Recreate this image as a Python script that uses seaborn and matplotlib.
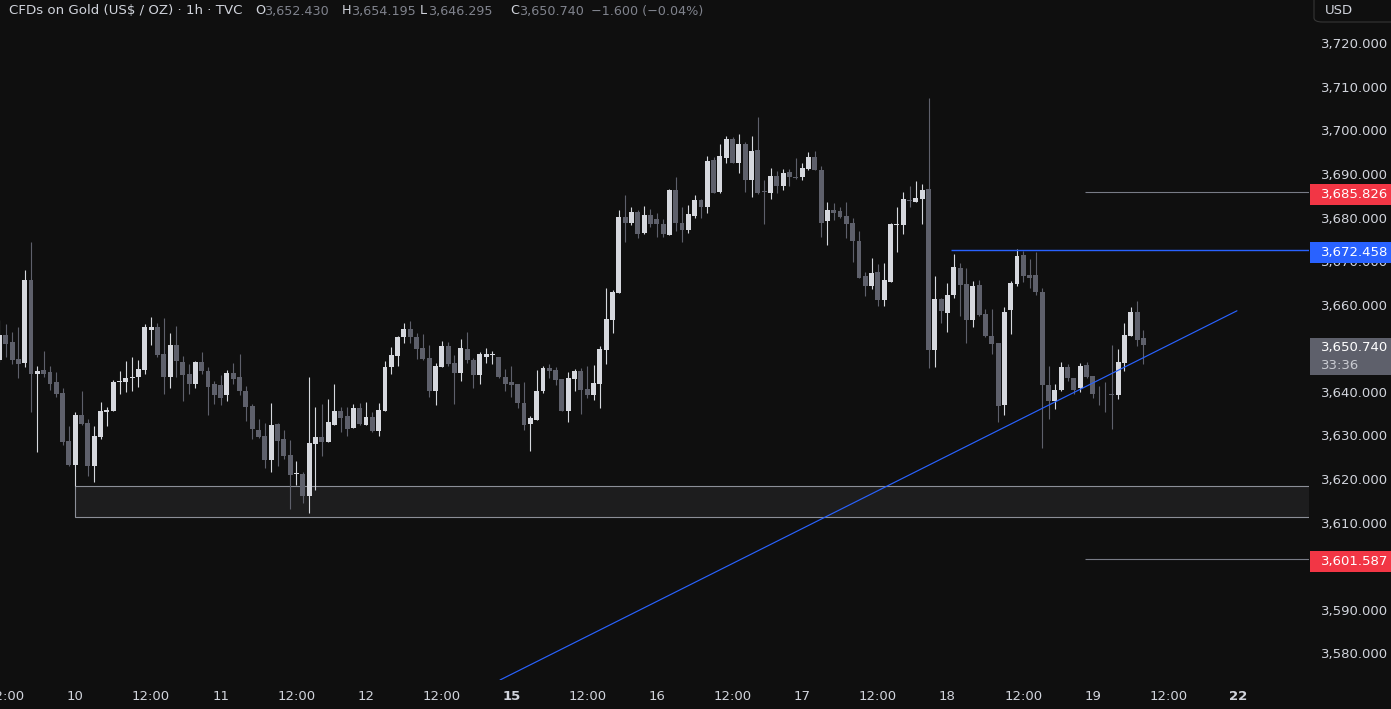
import numpy as np
import matplotlib
matplotlib.use('Agg')
import matplotlib.pyplot as plt
import seaborn as sns
from matplotlib.patches import Rectangle, FancyBboxPatch

# hourly candles, first visible bar sits 12 bars before the "10" day label
first_bar = -12
opens = [3647.4, 3653.1, 3651.5, 3647.6, 3646.7, 3665.7, 3644.2, 3645.0, 3644.6, 3642.3, 3639.8, 3628.8,
         3623.3, 3634.7, 3632.9, 3623.1, 3629.6, 3635.4, 3635.6, 3642.2, 3642.2, 3643.1, 3643.3, 3645.0,
         3654.3, 3654.9, 3648.7, 3643.3, 3650.8, 3646.9, 3644.0, 3641.9, 3646.9, 3644.9, 3641.7, 3641.5,
         3639.2, 3644.4, 3643.3, 3640.3, 3636.8, 3631.3, 3629.9, 3624.3, 3632.7, 3629.2, 3625.6, 3621.1,
         3621.2, 3616.0, 3628.0, 3629.7, 3628.6, 3632.3, 3635.6, 3634.5, 3631.6, 3636.3, 3632.5, 3634.3,
         3631.1, 3635.7, 3645.6, 3648.3, 3652.5, 3654.4, 3652.6, 3650.1, 3647.8, 3640.1, 3645.7, 3650.6,
         3646.6, 3644.4, 3649.9, 3647.3, 3643.8, 3648.1, 3648.4, 3647.9, 3643.5, 3642.3, 3641.7, 3637.5,
         3632.7, 3633.6, 3640.3, 3645.5, 3645.0, 3643.0, 3635.7, 3643.0, 3644.8, 3640.7, 3639.2, 3641.9,
         3649.5, 3656.6, 3662.6, 3680.1, 3678.8, 3681.3, 3676.5, 3680.6, 3679.7, 3678.5, 3676.0, 3686.2,
         3678.8, 3677.2, 3680.4, 3684.1, 3682.3, 3693.2, 3685.9, 3693.7, 3698.0, 3692.4, 3696.9, 3688.7,
         3695.5, 3686.0, 3685.7, 3689.5, 3687.3, 3690.5, 3689.2, 3689.2, 3691.2, 3693.9, 3691.0, 3679.1,
         3681.7, 3681.5, 3680.4, 3678.8, 3674.6, 3666.6, 3664.4, 3667.5, 3661.0, 3665.2, 3678.2, 3678.2,
         3683.8, 3683.6, 3684.3, 3686.6, 3649.7, 3661.3, 3658.0, 3662.3, 3668.4, 3664.8, 3656.6, 3664.5,
         3657.9, 3652.9, 3651.1, 3636.9, 3658.7, 3664.8, 3671.4, 3666.8, 3666.8, 3662.9, 3641.6, 3637.8,
         3640.5, 3645.7, 3643.1, 3640.8, 3646.2, 3643.7, 3639.5, 3639.5, 3639.6, 3639.2, 3646.7, 3652.9,
         3658.4, 3652.43]
highs = [3656.4, 3655.6, 3653.8, 3654.9, 3668.0, 3674.4, 3646.0, 3649.4, 3646.0, 3644.6, 3640.8, 3632.2,
         3635.3, 3640.2, 3633.7, 3632.2, 3637.7, 3636.6, 3642.8, 3644.8, 3647.1, 3648.0, 3647.3, 3655.6,
         3657.2, 3655.8, 3657.0, 3653.5, 3655.1, 3648.3, 3646.4, 3647.1, 3649.2, 3645.7, 3642.4, 3643.9,
         3645.0, 3646.7, 3648.7, 3641.4, 3637.2, 3633.8, 3632.9, 3637.5, 3632.9, 3631.3, 3629.0, 3624.2,
         3621.7, 3643.4, 3636.6, 3637.3, 3638.4, 3641.8, 3636.6, 3636.6, 3637.3, 3637.5, 3637.7, 3635.4,
         3637.5, 3647.1, 3650.3, 3652.8, 3655.8, 3656.3, 3653.5, 3653.3, 3650.8, 3646.7, 3651.7, 3651.5,
         3648.5, 3652.2, 3653.8, 3647.8, 3649.2, 3650.1, 3649.4, 3648.1, 3645.3, 3646.0, 3641.7, 3642.3,
         3634.5, 3645.0, 3646.0, 3646.4, 3645.7, 3643.0, 3644.6, 3645.3, 3645.5, 3646.0, 3646.2, 3650.6,
         3663.9, 3663.4, 3681.7, 3685.2, 3682.4, 3681.7, 3682.7, 3682.0, 3681.0, 3679.7, 3686.6, 3689.3,
         3682.4, 3682.9, 3685.2, 3684.3, 3694.1, 3693.8, 3696.9, 3698.7, 3698.5, 3699.2, 3697.3, 3698.7,
         3703.1, 3688.6, 3691.4, 3690.7, 3691.1, 3691.1, 3693.7, 3692.5, 3695.0, 3695.3, 3691.8, 3683.6,
         3683.4, 3682.3, 3683.6, 3679.9, 3676.9, 3667.5, 3670.7, 3669.4, 3669.6, 3678.8, 3682.4, 3685.9,
         3687.2, 3688.4, 3687.7, 3707.4, 3666.6, 3661.6, 3665.0, 3671.7, 3669.6, 3668.4, 3665.5, 3665.7,
         3658.9, 3658.9, 3651.2, 3659.5, 3665.5, 3672.8, 3672.3, 3670.5, 3672.1, 3663.8, 3646.0, 3641.8,
         3646.9, 3646.4, 3643.1, 3646.7, 3646.9, 3643.7, 3641.4, 3642.3, 3650.8, 3649.9, 3655.8, 3659.5,
         3660.9, 3654.195]
lows = [3646.8, 3648.1, 3646.3, 3643.1, 3645.6, 3635.3, 3626.1, 3643.5, 3640.5, 3638.9, 3627.7, 3623.0,
        3618.3, 3632.4, 3620.6, 3619.4, 3629.3, 3632.2, 3635.6, 3639.4, 3639.9, 3640.3, 3641.2, 3644.1,
        3650.8, 3647.9, 3639.6, 3641.0, 3643.3, 3637.8, 3639.4, 3641.0, 3644.0, 3634.6, 3637.3, 3637.1,
        3637.8, 3641.9, 3639.2, 3633.4, 3629.3, 3629.5, 3622.6, 3621.7, 3622.9, 3624.7, 3613.2, 3618.7,
        3614.6, 3612.1, 3617.6, 3625.2, 3628.6, 3632.3, 3630.9, 3629.8, 3631.6, 3632.3, 3632.5, 3630.7,
        3629.8, 3635.7, 3644.2, 3646.0, 3651.1, 3651.3, 3647.6, 3647.3, 3638.9, 3636.9, 3645.6, 3646.0,
        3637.3, 3642.6, 3646.7, 3641.0, 3641.9, 3646.7, 3646.5, 3643.1, 3640.3, 3638.9, 3636.2, 3631.2,
        3626.5, 3633.6, 3639.7, 3643.1, 3641.5, 3635.7, 3633.0, 3640.3, 3635.0, 3638.5, 3638.2, 3636.2,
        3646.3, 3653.4, 3662.6, 3674.3, 3678.2, 3675.4, 3676.3, 3677.9, 3675.6, 3675.6, 3675.9, 3676.8,
        3674.3, 3676.5, 3679.8, 3679.8, 3681.1, 3685.7, 3685.7, 3692.6, 3692.4, 3690.1, 3685.9, 3684.8,
        3685.3, 3678.4, 3684.3, 3685.7, 3686.2, 3687.3, 3688.9, 3688.7, 3691.0, 3690.8, 3675.6, 3673.8,
        3679.5, 3680.0, 3675.4, 3669.9, 3666.2, 3661.9, 3663.5, 3659.8, 3659.6, 3665.2, 3672.2, 3676.3,
        3682.5, 3683.6, 3678.4, 3645.4, 3645.6, 3655.7, 3653.8, 3661.5, 3657.5, 3651.1, 3654.8, 3657.3,
        3652.7, 3648.8, 3633.0, 3634.7, 3653.2, 3664.2, 3665.1, 3663.9, 3662.3, 3627.1, 3633.7, 3636.0,
        3640.3, 3642.6, 3639.6, 3639.9, 3643.1, 3638.7, 3637.1, 3635.3, 3631.4, 3638.3, 3644.7, 3652.9,
        3650.6, 3646.295]
closes = [3653.1, 3651.0, 3647.2, 3646.5, 3665.7, 3644.2, 3644.8, 3644.1, 3641.9, 3639.6, 3628.6, 3623.3,
          3634.7, 3632.6, 3623.1, 3629.9, 3635.6, 3635.9, 3642.3, 3642.5, 3643.2, 3643.5, 3645.3, 3654.8,
          3654.9, 3648.5, 3643.3, 3650.8, 3647.0, 3643.8, 3641.9, 3646.9, 3644.7, 3641.2, 3639.2, 3638.7,
          3644.4, 3643.0, 3640.1, 3636.6, 3631.4, 3629.7, 3624.3, 3632.4, 3628.8, 3625.4, 3621.0, 3621.2,
          3616.0, 3628.3, 3629.7, 3628.6, 3633.1, 3635.6, 3634.1, 3631.4, 3636.3, 3632.7, 3634.3, 3631.1,
          3635.9, 3645.7, 3648.5, 3652.6, 3654.4, 3652.5, 3649.9, 3647.6, 3640.3, 3646.0, 3650.6, 3646.3,
          3644.4, 3650.1, 3647.4, 3643.8, 3648.7, 3648.7, 3648.5, 3643.3, 3641.9, 3641.5, 3637.5, 3632.5,
          3633.9, 3640.2, 3645.5, 3644.8, 3642.8, 3635.7, 3643.2, 3644.8, 3640.5, 3639.2, 3642.1, 3649.9,
          3656.7, 3662.9, 3680.1, 3678.8, 3681.3, 3676.3, 3680.6, 3678.4, 3678.4, 3676.3, 3686.2, 3678.8,
          3677.2, 3680.7, 3684.1, 3682.3, 3693.0, 3685.7, 3694.1, 3698.0, 3692.6, 3696.9, 3688.7, 3695.3,
          3685.7, 3685.9, 3689.5, 3687.3, 3690.2, 3689.2, 3689.1, 3691.4, 3693.9, 3691.0, 3678.8, 3681.7,
          3681.1, 3680.1, 3678.6, 3674.5, 3666.2, 3664.4, 3667.3, 3661.0, 3665.7, 3678.4, 3678.3, 3684.3,
          3683.7, 3684.5, 3686.2, 3649.7, 3661.3, 3658.6, 3662.3, 3668.7, 3664.5, 3656.6, 3664.3, 3657.7,
          3652.9, 3650.9, 3636.8, 3658.4, 3665.0, 3671.2, 3666.5, 3666.2, 3662.8, 3641.5, 3637.8, 3640.5,
          3645.7, 3643.1, 3640.5, 3646.0, 3643.3, 3639.6, 3639.4, 3639.4, 3639.2, 3646.9, 3653.1, 3658.4,
          3651.8, 3650.74]

# header change vs previous close
change = -1.600
change_pct = -0.04

# time axis
day_labels = ['10', '11', '12', '15', '16', '17', '18', '19', '22']
day_bars = [0, 23, 46, 69, 92, 115, 138, 161, 184]
noon_bars = [-11, 12, 35, 58, 81, 104, 127, 150, 173]
week_start = ['15', '22']

# drawings
resist_hi = 3685.826
resist_mid = 3672.458
support_lo = 3601.587
zone_low, zone_high = 3611.4, 3618.3
trend_x = [67.2, 183.8]
trend_y = [3573.9, 3658.6]
last_price = 3650.74
countdown = '33:36'

bg = '#0f0f0f'
up_col = '#d6d8de'
down_col = '#5e606b'
txt = '#d1d4dc'
blue = '#2962ff'
red = '#f23645'

sns.set_theme(style='dark', rc={'axes.facecolor': bg, 'figure.facecolor': bg, 'axes.grid': False})
plt.rcParams['font.family'] = ['DejaVu Sans']

W, H = 1391, 709
fig = plt.figure(figsize=(W / 100, H / 100), dpi=100)
ax = fig.add_axes([0, 29 / H, 1309 / W, 680 / H])
ax.set_facecolor(bg)
for s in ax.spines.values():
    s.set_visible(False)

o = np.array(opens)
h = np.array(highs)
l = np.array(lows)
c = np.array(closes)
bars = np.arange(first_bar, first_bar + len(c))
cols = np.where(c >= o, up_col, down_col)

# support zone + levels behind candles
ax.add_patch(Rectangle((day_bars[0], zone_low), 260, zone_high - zone_low,
                       facecolor='#1d1d1e', edgecolor='#8c8f98', lw=0.8, zorder=1))
ax.hlines(resist_hi, 159.8, 260, color='#787b86', lw=0.8, zorder=1)
ax.hlines(support_lo, 159.8, 260, color='#787b86', lw=0.8, zorder=1)

ax.vlines(bars, l, h, colors=cols, lw=0.8, zorder=2)
ax.bar(bars, np.maximum(np.abs(c - o), 0.22), bottom=np.minimum(o, c), width=0.78,
       color=cols, linewidth=0, zorder=3)

ax.hlines(resist_mid, 138.6, 260, color=blue, lw=1.0, zorder=4)
ax.plot(trend_x, trend_y, color=blue, lw=0.85, zorder=4)

ax.set_xlim(-11.91, 195.2)
ax.set_ylim(3573.9, 3729.9)

# axes (labels hidden behind the price tags are left blank)
ax.yaxis.tick_right()
yt = np.arange(3580, 3721, 10)
ax.set_yticks(yt)
ax.set_yticklabels(['' if v in (3600, 3650) else f'{v:,.3f}' for v in yt])
ax.tick_params(axis='y', length=0, pad=8.6, labelsize=9.5, labelcolor=txt)

xt = day_bars + noon_bars
xl = day_labels + ['12:00'] * len(noon_bars)
ax.set_xticks(xt)
ax.set_xticklabels(xl)
ax.tick_params(axis='x', length=0, pad=7.5, labelsize=9.5, labelcolor=txt)
for lab in ax.get_xticklabels():
    if lab.get_text() in week_start:
        lab.set_fontweight('bold')


def fx(px):
    return px / W


def ypix(value):
    return ax.transData.transform((0, value))[1]


def tag(value, face, up=8.5, down=12.5):
    yp = ypix(value)
    fig.add_artist(Rectangle((fx(1310), (yp - down) / H), fx(90), (up + down) / H,
                             transform=fig.transFigure, facecolor=face, edgecolor='none', zorder=5))
    fig.text(fx(1321), (yp - (down - up) / 2) / H, f'{value:,.3f}', color='white',
             fontsize=9.5, va='center', ha='left', zorder=6)


tag(resist_hi, red)
tag(resist_mid, blue)
tag(support_lo, red)

# last price box
yp = ypix(last_price)
fig.add_artist(Rectangle((fx(1310), (yp - 30) / H), fx(90), 37 / H, transform=fig.transFigure,
                         facecolor='#5e606b', edgecolor='none', zorder=5))
fig.text(fx(1321), (yp - 2) / H, f'{last_price:,.3f}', color='white', fontsize=9.5, va='center', zorder=6)
fig.text(fx(1321), (yp - 20) / H, countdown, color='#c9cbd2', fontsize=9.5, va='center', zorder=6)

# currency box
fig.add_artist(FancyBboxPatch((fx(1314), (H - 22) / H), fx(90), 30 / H, boxstyle='round,pad=0,rounding_size=0.006',
                              transform=fig.transFigure, facecolor=bg, edgecolor='#363636', lw=0.8, zorder=5))
fig.text(fx(1325), (H - 11) / H, 'USD', color=txt, fontsize=9.5, va='center', zorder=6)

# header
yh = (H - 11) / H
hs = 9.2
fig.text(fx(9), yh, 'CFDs on Gold (US$ / OZ) · 1h · TVC', color=txt, fontsize=9.6, va='center')
vals = [('O', 255, f'{opens[-1]:,.3f}', 264), ('H', 342, f'{highs[-1]:,.3f}', 351),
        ('L', 420, f'{lows[-1]:,.3f}', 428), ('C', 510, f'{closes[-1]:,.3f}', 519)]
for k, kx, v, vx in vals:
    fig.text(fx(kx), yh, k, color=txt, fontsize=hs, va='center')
    fig.text(fx(vx), yh, v, color='#80838d', fontsize=hs, va='center')
fig.text(fx(591), yh, f'\u2212{abs(change):.3f} (\u2212{abs(change_pct):.2f}%)',
         color='#80838d', fontsize=hs, va='center')

fig.savefig('out.png', dpi=100, facecolor=bg)
